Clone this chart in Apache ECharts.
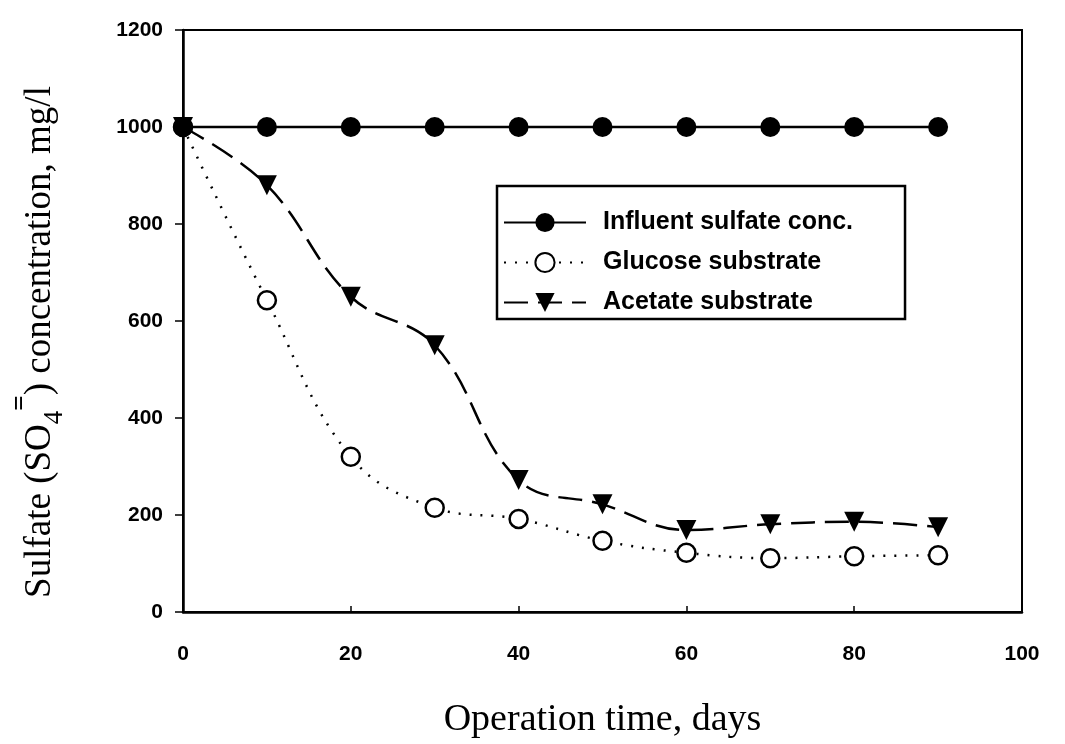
<!DOCTYPE html>
<html><head><meta charset="utf-8">
<script src="https://cdn.jsdelivr.net/npm/echarts@6/dist/echarts.min.js"></script>
<style>html,body{margin:0;padding:0;background:#fff}#c{width:1065px;height:744px}</style>
</head><body><div id="c"></div>
<script>
const days = [0, 10, 20, 30, 40, 50, 60, 70, 80, 90];
const influent = [1000, 1000, 1000, 1000, 1000, 1000, 1000, 1000, 1000, 1000];
const glucose = [1000, 643, 320, 215, 192, 147, 122, 111, 115, 117];
const acetate = [1000, 880, 650, 550, 272, 222, 169, 181, 186, 175];
const seriesNames = ['Influent sulfate conc.', 'Glucose substrate', 'Acetate substrate'];
const xTicks = [0, 20, 40, 60, 80, 100];
const yTicks = [0, 200, 400, 600, 800, 1000, 1200];

const pairs = arr => days.map((d, i) => [d, arr[i]]);
const chart = echarts.init(document.getElementById('c'), null, {renderer: 'canvas'});
const lblFont = {color: '#000', fontFamily: 'Liberation Sans, Arial', fontWeight: 'bold', fontSize: 21};
chart.setOption({
  animation: false,
  backgroundColor: '#fff',
  grid: {left: 183, right: 43, top: 30, bottom: 132, show: true, borderColor: '#000', borderWidth: 2},
  xAxis: {
    type: 'value', min: 0, max: 100, interval: 20,
    axisLine: {lineStyle: {color: '#000', width: 2.5}},
    axisTick: {inside: true, length: 6, lineStyle: {color: '#000', width: 1.5}},
    splitLine: {show: false},
    axisLabel: Object.assign({margin: 32, formatter: v => xTicks.includes(v) ? String(v) : ''}, lblFont),
    name: 'Operation time, days', nameLocation: 'middle', nameGap: 89,
    nameTextStyle: {fontFamily: 'Liberation Serif, Times New Roman', fontSize: 38, color: '#000'}
  },
  yAxis: {
    type: 'value', min: 0, max: 1200, interval: 200,
    axisLine: {lineStyle: {color: '#000', width: 2.5}},
    axisTick: {inside: false, length: 8, lineStyle: {color: '#000', width: 1.5}},
    splitLine: {show: false},
    axisLabel: Object.assign({margin: 20, formatter: v => yTicks.includes(v) ? String(v) : ''}, lblFont)
  },
  graphic: [{
    type: 'text', x: 40, y: 342, rotation: Math.PI / 2,
    style: {
      text: 'Sulfate (SO{sub|4}{sup|=}) concentration, mg/l',
      fontFamily: 'Liberation Serif, Times New Roman', fontSize: 37, fill: '#000',
      align: 'center', verticalAlign: 'middle',
      rich: {
        sub: {fontFamily: 'Liberation Serif', fontSize: 27, verticalAlign: 'bottom', padding: [0, 0, -10, 0]},
        sup: {fontFamily: 'Liberation Serif', fontSize: 27, fontWeight: 'bold', verticalAlign: 'top', padding: [-14, 0, 0, 0]}
      }
    }
  }],
  legend: {
    orient: 'vertical', left: 497, top: 186,
    backgroundColor: '#fff', borderColor: '#000', borderWidth: 2.5,
    padding: [24, 52, 4, 6], itemGap: 15, itemWidth: 82, itemHeight: 24,
    textStyle: {fontFamily: 'Liberation Sans, Arial', fontWeight: 'bold', fontSize: 25, color: '#000', padding: [0, 0, 0, 12]},
    data: seriesNames
  },
  series: [
    {name: seriesNames[0], type: 'line', data: pairs(influent), symbol: 'circle', symbolSize: 20,
     lineStyle: {color: '#000', width: 2.5}, itemStyle: {color: '#000'}, z: 3},
    {name: seriesNames[1], type: 'line', data: pairs(glucose), smooth: 0.4, symbol: 'circle', symbolSize: 18,
     lineStyle: {color: '#000', width: 2.5, type: [2, 9]}, itemStyle: {color: '#fff', borderColor: '#000', borderWidth: 2.5}, z: 2},
    {name: seriesNames[2], type: 'line', data: pairs(acetate), smooth: 0.4, symbol: 'triangle', symbolRotate: 180, symbolSize: 20,
     lineStyle: {color: '#000', width: 2.5, type: [24, 10]}, itemStyle: {color: '#000'}, z: 2}
  ]
});
</script></body></html>
